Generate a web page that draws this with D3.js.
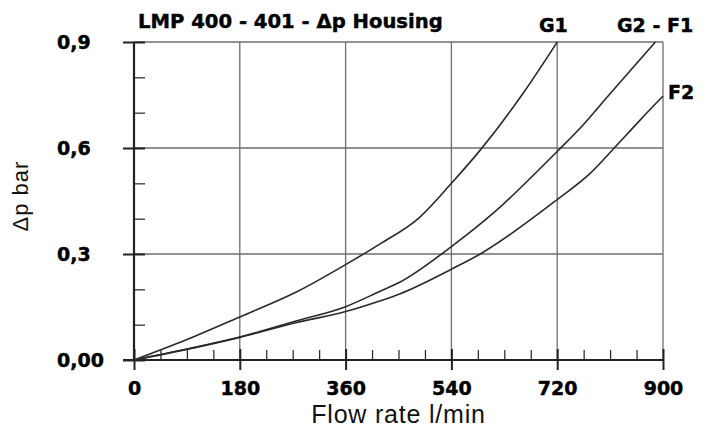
<!DOCTYPE html>
<html>
<head>
<meta charset="utf-8">
<script src="https://cdn.jsdelivr.net/npm/d3@7/dist/d3.min.js"></script>
<style>
  html, body { margin: 0; padding: 0; background: #fff; }
  svg { display: block; }
</style>
</head>
<body>
<svg id="chart" width="707" height="428"></svg>
<script>
// ---- data (flow rate l/min, Δp bar) ----
const seriesNames = ["G1", "G2 - F1", "F2"];
const g1Flow   = [0, 90, 180, 277, 360, 418, 484, 540, 589, 662, 720];
const g1Dp     = [0, 0.058, 0.122, 0.193, 0.27, 0.328, 0.401, 0.5, 0.594, 0.755, 0.9];
const g2f1Flow = [0, 90, 180, 277, 360, 418, 452, 540, 617, 691, 720, 764, 804, 887];
const g2f1Dp   = [0, 0.031, 0.065, 0.111, 0.151, 0.194, 0.22, 0.321, 0.424, 0.542, 0.59, 0.665, 0.742, 0.9];
const f2Flow   = [0, 90, 180, 277, 360, 418, 452, 540, 589, 720, 776, 817, 861, 900];
const f2Dp     = [0, 0.03, 0.064, 0.106, 0.137, 0.167, 0.187, 0.257, 0.3, 0.454, 0.528, 0.6, 0.679, 0.747];
const xTicks = [0, 180, 360, 540, 720, 900];
const xTickLabels = ["0", "180", "360", "540", "720", "900"];
const xMinorTicks = [45, 90, 135, 225, 270, 315, 405, 450, 495, 585, 630, 675, 765, 810, 855];
const yTicks = [0, 0.3, 0.6, 0.9];
const yTickLabels = ["0,00", "0,3", "0,6", "0,9"];
const yMinorTicks = [0.1, 0.2, 0.4, 0.5, 0.7, 0.8];
const title = "LMP 400 - 401 - \u0394p Housing";
const xTitle = "Flow rate l/min";
const yTitle = "\u0394p bar";

const series = [
  { name: seriesNames[0], pts: g1Flow.map((f, i) => [f, g1Dp[i]]) },
  { name: seriesNames[1], pts: g2f1Flow.map((f, i) => [f, g2f1Dp[i]]) },
  { name: seriesNames[2], pts: f2Flow.map((f, i) => [f, f2Dp[i]]) }
];

// ---- layout ----
const svg = d3.select("#chart");
const L = 134, R = 663, T = 42, B = 360;
const x = d3.scaleLinear().domain([0, 900]).range([L, R]);
const y = d3.scaleLinear().domain([0, 0.9]).range([B, T]);

const gridCol = "#6e6e6e";
const axisCol = "#222";
const boldFont = "'DejaVu Sans', sans-serif";
const boldStyle = sel => sel.attr("font-family", boldFont).attr("font-weight", "bold")
  .attr("fill", "#000").attr("stroke", "#000").attr("stroke-width", 0.45);

// grid
const grid = svg.append("g");
grid.selectAll("line.v").data(xTicks.slice(1)).join("line")
  .attr("x1", d => x(d)).attr("x2", d => x(d))
  .attr("y1", T).attr("y2", B)
  .attr("stroke", gridCol).attr("stroke-width", 1.3);
grid.selectAll("line.h").data(yTicks.slice(1)).join("line")
  .attr("x1", L).attr("x2", R)
  .attr("y1", d => y(d)).attr("y2", d => y(d))
  .attr("stroke", gridCol).attr("stroke-width", 1.3);

// minor ticks
svg.append("g").attr("transform", `translate(0,${B})`)
  .call(d3.axisTop(x).tickValues(xMinorTicks).tickSize(10).tickFormat(""))
  .call(g => g.select(".domain").remove())
  .call(g => g.selectAll("line").attr("stroke", axisCol).attr("stroke-width", 1.2));
svg.append("g").attr("transform", `translate(${L},0)`)
  .call(d3.axisRight(y).tickValues(yMinorTicks).tickSize(11).tickFormat(""))
  .call(g => g.select(".domain").remove())
  .call(g => g.selectAll("line").attr("stroke", axisCol).attr("stroke-width", 1.2));

// x axis
const xAxis = svg.append("g").attr("transform", `translate(0,${B})`)
  .call(d3.axisBottom(x).tickValues(xTicks).tickSize(10).tickPadding(12)
    .tickFormat((d, i) => xTickLabels[i]));
xAxis.select(".domain").attr("d", `M${L - 11},0H${R}`).attr("stroke", axisCol).attr("stroke-width", 2.2);
xAxis.selectAll("line").attr("y1", -11).attr("y2", 10).attr("stroke", axisCol).attr("stroke-width", 2);
xAxis.selectAll("text").call(boldStyle).attr("font-size", 19);

// y axis
const yAxis = svg.append("g").attr("transform", `translate(${L},0)`)
  .call(d3.axisLeft(y).tickValues(yTicks).tickSize(11)
    .tickFormat((d, i) => yTickLabels[i]));
yAxis.select(".domain").attr("d", `M0,${T}V${B}`).attr("stroke", axisCol).attr("stroke-width", 2.2);
yAxis.selectAll("line").attr("x1", -11).attr("x2", 11).attr("stroke", axisCol).attr("stroke-width", 2);
yAxis.selectAll("text").call(boldStyle).attr("font-size", 19)
  .attr("text-anchor", "start").attr("x", 57 - L).attr("dy", "0.36em");

// curves
const line = d3.line().x(d => x(d[0])).y(d => y(d[1])).curve(d3.curveMonotoneX);
svg.append("g").selectAll("path").data(series).join("path")
  .attr("d", d => line(d.pts))
  .attr("fill", "none").attr("stroke", "#2a2a2a").attr("stroke-width", 1.6);

// series labels
const labelPos = [
  { name: seriesNames[0], x: 539, y: 31.5 },
  { name: seriesNames[1], x: 617, y: 31.5 },
  { name: seriesNames[2], x: 668, y: 99 }
];
svg.append("g").selectAll("text").data(labelPos).join("text")
  .attr("x", d => d.x).attr("y", d => d.y).text(d => d.name)
  .call(boldStyle).attr("font-size", 19);

// title
svg.append("text").attr("x", 138).attr("y", 27.7).text(title)
  .call(boldStyle).attr("font-size", 19.6);

// axis titles
svg.append("text").attr("x", (L + R) / 2).attr("y", 422.5).text(xTitle)
  .attr("text-anchor", "middle").attr("font-family", "'Liberation Sans', Arial, sans-serif")
  .attr("font-size", 25).attr("letter-spacing", 0.8).attr("fill", "#111");
svg.append("text").attr("transform", "translate(28,196) rotate(-90)").text(yTitle)
  .attr("text-anchor", "middle").attr("font-family", "'Liberation Sans', Arial, sans-serif")
  .attr("font-size", 22).attr("letter-spacing", 1).attr("fill", "#111");
</script>
</body>
</html>
